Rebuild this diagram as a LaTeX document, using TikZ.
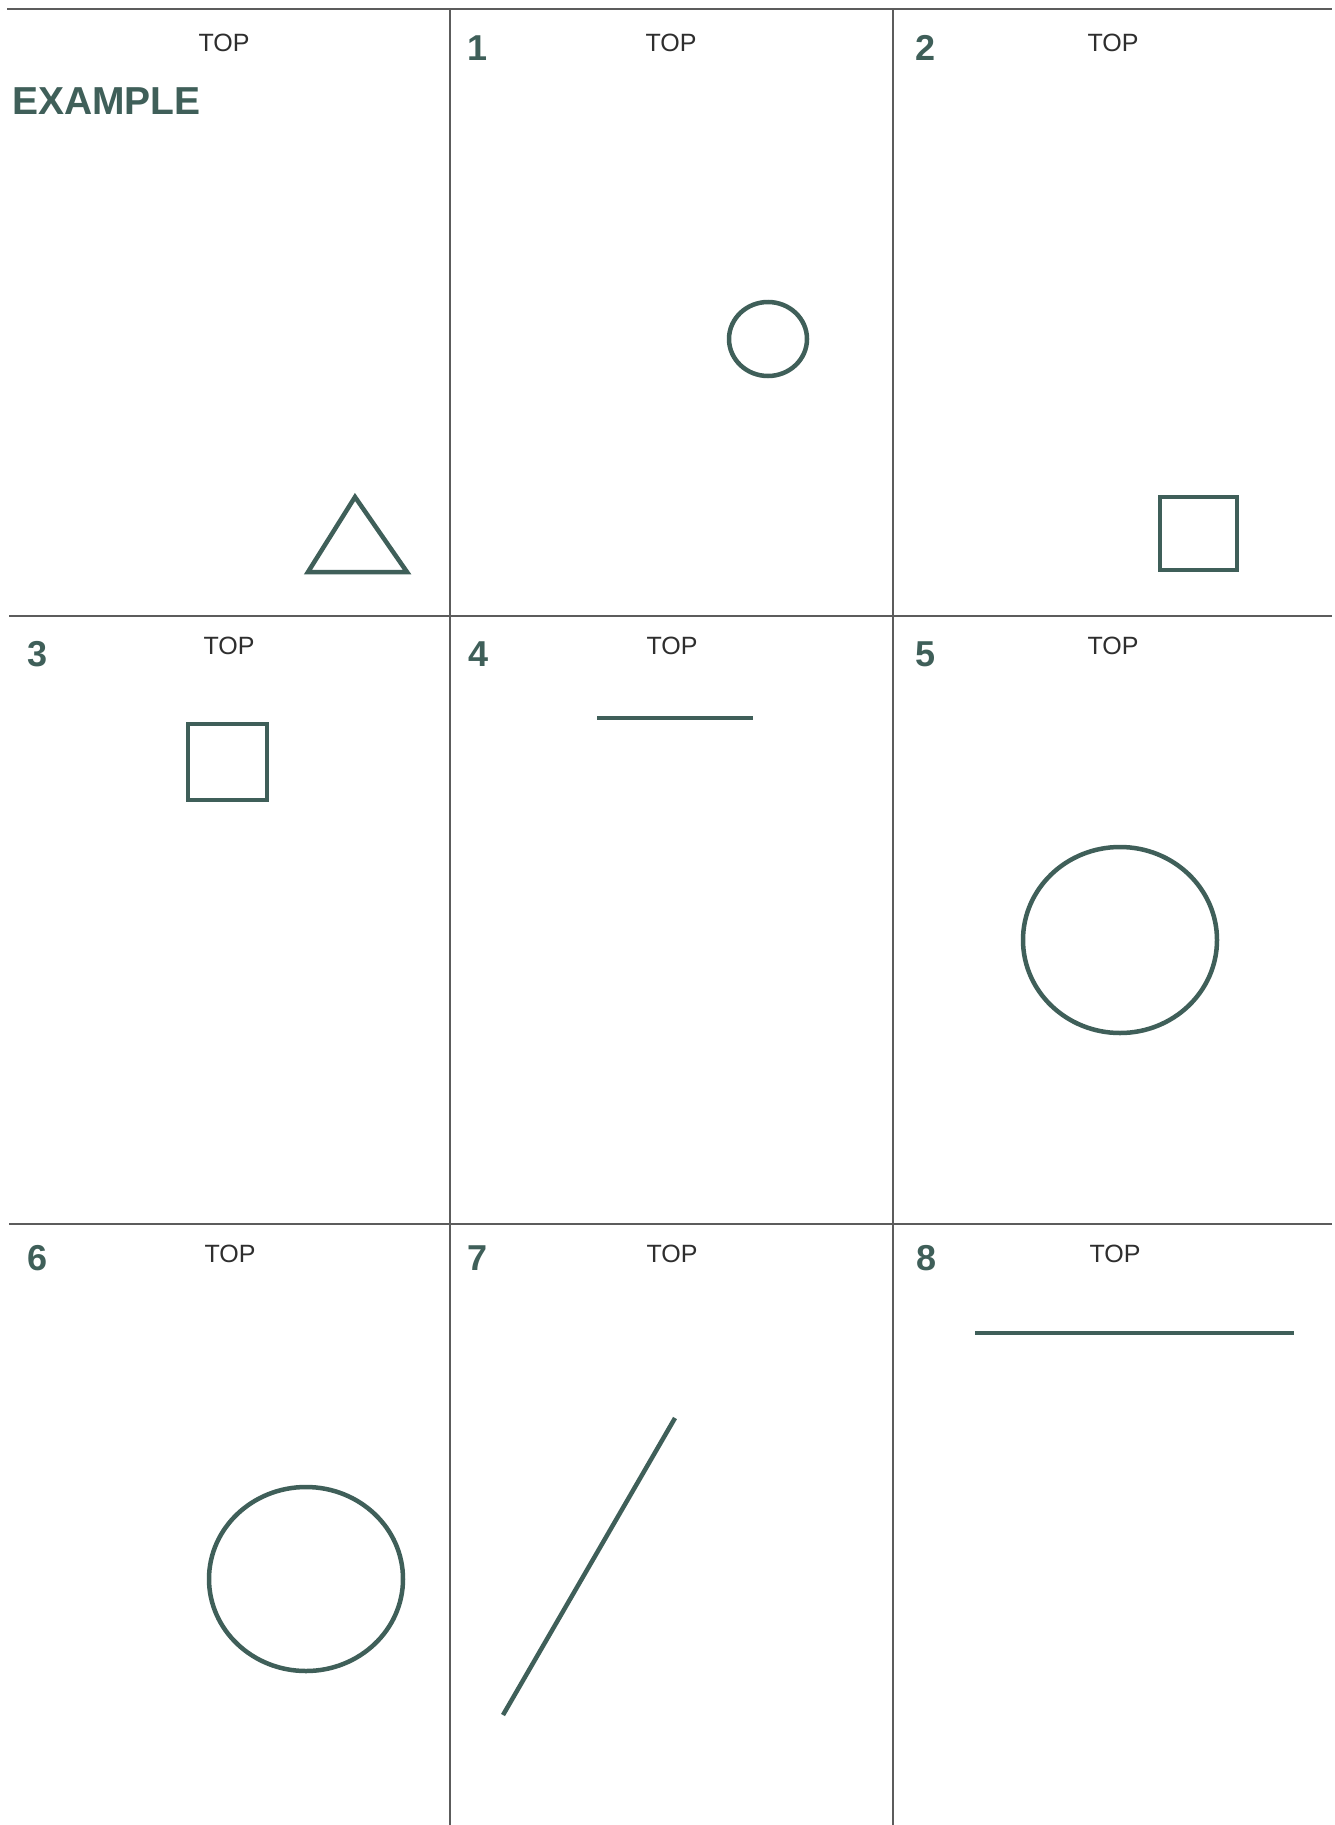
\documentclass[tikz,border=0pt]{standalone}
\usepackage{fontspec}
\setmainfont{Liberation Sans}
\usetikzlibrary{positioning}
\definecolor{Slate}{HTML}{3F5F59}
\definecolor{RuleGrey}{HTML}{5C5C5C}
\definecolor{Ink}{HTML}{2E2E2E}

\begin{document}
\begin{tikzpicture}[x=1pt,y=-1pt]
    \tikzset{
      panelrule/.style={draw=RuleGrey,line width=1.8pt},
      toplbl/.style={anchor=base,inner sep=0pt,font=\fontsize{25}{30}\selectfont,text=Ink},
      numlbl/.style={anchor=base,inner sep=0pt,font=\fontsize{36}{40}\selectfont\bfseries,text=Slate},
      figline/.style={draw=Slate,line width=4.5pt}
    }
    \useasboundingbox (0,0) rectangle (1335,1825);
    \fill[white] (0,0) rectangle (1335,1825);

    % panel rules
    \draw[panelrule] (7,9) -- (1332,9);
    \draw[panelrule] (9,616) -- (1332,616);
    \draw[panelrule] (9,1224) -- (1332,1224);
    \draw[panelrule] (450,9) -- (450,1825);
    \draw[panelrule] (893,9) -- (893,1825);

    % top row
    \node[toplbl] (top0) at (224,52) {TOP};
    \node[anchor=base west,inner sep=0pt,font=\fontsize{39}{44}\selectfont\bfseries,text=Slate]
          (ex) at (12,115) {EXAMPLE};
    \draw[figline] (355,497) -- (308,572) -- (407,572) -- cycle;

    \node[numlbl] (n1) at (478,61) {1};
    \node[toplbl] (top1) at (671,52) {TOP};
    \draw[figline] (768,339) ellipse [x radius=39,y radius=37];

    \node[numlbl] (n2) at (925,61) {2};
    \node[toplbl] (top2) at (1113,52) {TOP};
    \draw[figline] (1160,497) rectangle (1237,570);

    % middle row
    \node[numlbl] (n3) at (38,666) {3};
    \node[toplbl] (top3) at (229,654) {TOP};
    \draw[figline] (188,724) rectangle (267,800);

    \node[numlbl] (n4) at (479,666) {4};
    \node[toplbl] (top4) at (672,654) {TOP};
    \draw[figline] (597,718) -- (753,718);

    \node[numlbl] (n5) at (925,666) {5};
    \node[toplbl] (top5) at (1113,654) {TOP};
    \draw[figline] (1120,940) ellipse [x radius=97,y radius=93];

    % bottom row
    \node[numlbl] (n6) at (38,1270) {6};
    \node[toplbl] (top6) at (230,1262) {TOP};
    \draw[figline] (306,1579) ellipse [x radius=97,y radius=92];

    \node[numlbl] (n7) at (478,1270) {7};
    \node[toplbl] (top7) at (672,1262) {TOP};
    \draw[figline] (503,1715) -- (675,1418);

    \node[numlbl] (n8) at (926,1270) {8};
    \node[toplbl] (top8) at (1115,1262) {TOP};
    \draw[figline] (975,1333) -- (1294,1333);
  \end{tikzpicture}
\end{document}
